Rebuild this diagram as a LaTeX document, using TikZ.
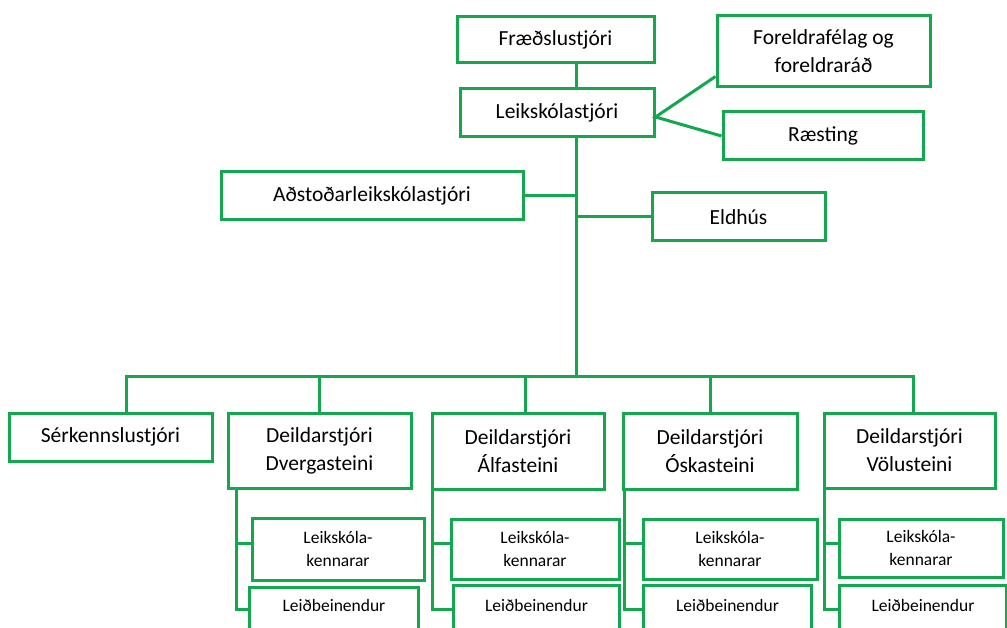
\documentclass[tikz,border=0pt]{standalone}
\usepackage{fontspec}
\setmainfont{Carlito}
\definecolor{orggreen}{RGB}{20,168,78}
\begin{document}
\begin{tikzpicture}[x=1pt,y=-1pt,
  box/.style={draw=orggreen, line width=3pt, fill=white, inner sep=0pt, align=center,
    font=\fontsize{21.5}{28}\selectfont},
  smallbox/.style={box, font=\fontsize{17.5}{23}\selectfont},
  conn/.style={draw=orggreen, line width=3pt},
]
\useasboundingbox (0,0) rectangle (1007,628);
\clip (0,0) rectangle (1007,628);

% top part
\node[box, minimum width=197pt, minimum height=46pt] (fr) at (555.5,40) {Fræðslustjóri};
\node[box, minimum width=194pt, minimum height=48pt] (ls) at (557,113) {Leikskólastjóri};
\node[box, minimum width=302pt, minimum height=48pt] (ad) at (372,196) {Aðstoðarleikskólastjóri};
\node[box, minimum width=173pt, minimum height=48pt] (el) at (738.5,217) {Eldhús};
\node[box, minimum width=213pt, minimum height=71pt] (fo) at (823.5,51.5) {Foreldrafélag og\\foreldraráð};
\node[box, minimum width=200pt, minimum height=48pt] (ra) at (823,136) {Ræsting};

% second level
\node[box, minimum width=203pt, minimum height=48pt] (se) at (110.5,437) {Sérkennslustjóri};
\node[box, minimum width=183pt, minimum height=75pt] (dv) at (319.5,450.5) {Deildarstjóri\\Dvergasteini};
\node[box, minimum width=172pt, minimum height=76pt] (al) at (518,451) {Deildarstjóri\\Álfasteini};
\node[box, minimum width=174pt, minimum height=76pt] (os) at (710,451) {Deildarstjóri\\Óskasteini};
\node[box, minimum width=171pt, minimum height=75pt] (vo) at (909.5,450.5) {Deildarstjóri\\Völusteini};

% third level: Leikskólakennarar
\node[smallbox, minimum width=172pt, minimum height=62pt] (dvL) at (338,549) {Leikskóla-\\kennarar};
\node[smallbox, minimum width=168pt, minimum height=60pt] (alL) at (535,549) {Leikskóla-\\kennarar};
\node[smallbox, minimum width=174pt, minimum height=60pt] (osL) at (730,549) {Leikskóla-\\kennarar};
\node[smallbox, minimum width=164pt, minimum height=58pt] (voL) at (921,548) {Leikskóla-\\kennarar};

% third level: Leiðbeinendur (cut off at the bottom)
\node[smallbox, anchor=north west, minimum width=169pt, text height=24pt, text depth=34pt] (dvB) at (248,586) {Leiðbeinendur};
\node[smallbox, anchor=north west, minimum width=166pt, text height=26pt, text depth=34pt] (alB) at (452,584) {Leiðbeinendur};
\node[smallbox, anchor=north west, minimum width=168pt, text height=26pt, text depth=34pt] (osB) at (642,584) {Leiðbeinendur};
\node[smallbox, anchor=north west, minimum width=167pt, text height=26pt, text depth=34pt] (voB) at (838,584) {Leiðbeinendur};

% connectors top
\coordinate (t) at (576,0);
\coordinate (bus) at (576,376);
\draw[conn] (fr.south -| t) -- (ls.north -| t);
\draw[conn] (ls.south -| t) -- (bus);
\draw[conn] (ad.east) -- (ad.east -| t);
\draw[conn] (el.west) -- (el.west -| t);
\draw[conn] ([yshift=12pt]fo.south west) -- ([yshift=-4pt]ls.east) -- (ra.west);

% bus
\coordinate (b1) at (126,376);
\coordinate (b3) at (525,376);
\coordinate (b5) at (913,376);
\draw[conn] (b1 |- se.north) -- (b1) -- (b5) -- (b5 |- vo.north);
\draw[conn] (dv.north |- bus) -- (dv.north);
\draw[conn] (b3) -- (b3 |- al.north);
\draw[conn] (os.north |- bus) -- (os.north);

% sub-branches
\coordinate (dvs) at ([xshift=10pt]dv.south west);
\coordinate (als) at ([xshift=1.5pt]al.south west);
\coordinate (oss) at ([xshift=3pt]os.south west);
\coordinate (vos) at ([xshift=1.5pt]vo.south west);
\draw[conn] (dvs) |- ([yshift=6pt]dvL.west);
\draw[conn] (dvs) |- ([yshift=7pt]dvB.west);
\draw[conn] (als) |- ([yshift=6pt]alL.west);
\draw[conn] (als) |- ([yshift=6pt]alB.west);
\draw[conn] (oss) |- ([yshift=6pt]osL.west);
\draw[conn] (oss) |- ([yshift=6pt]osB.west);
\draw[conn] (vos) |- ([yshift=5pt]voL.west);
\draw[conn] (vos) |- ([yshift=6pt]voB.west);
\end{tikzpicture}
\end{document}
